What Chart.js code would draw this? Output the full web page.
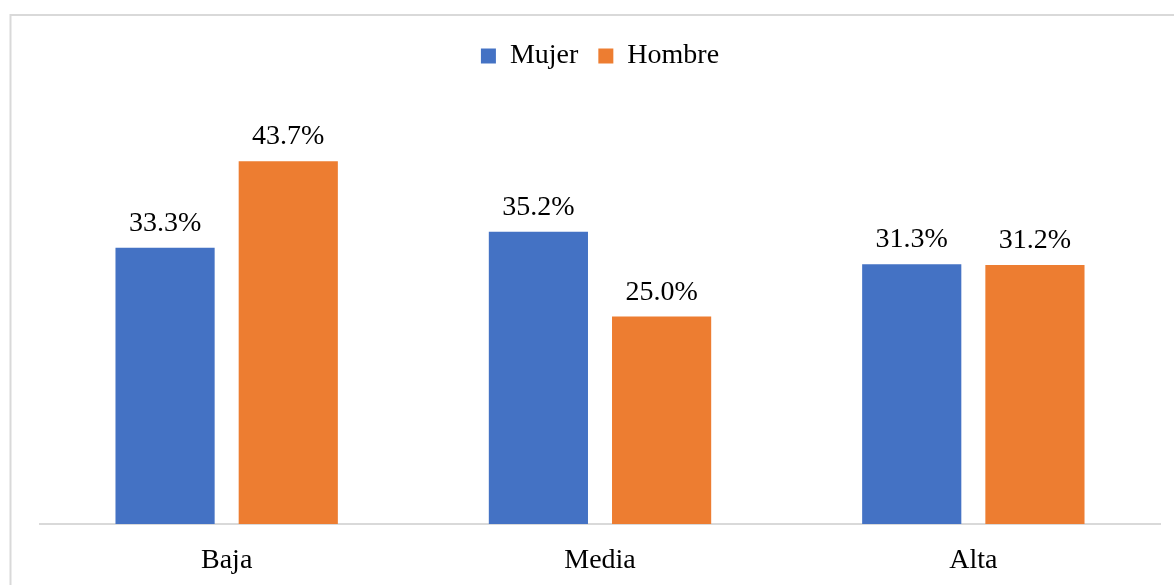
<!DOCTYPE html>
<html>
<head>
  <title>Mujer / Hombre</title>
  <style>
    html, body { margin: 0; padding: 0; background: #fff; overflow: hidden; }
    #wrap { position: relative; width: 1174px; height: 585px; }
  </style>
</head>
<body>
  <div id="wrap"><canvas id="myChart"></canvas></div>
  <script src="https://cdn.jsdelivr.net/npm/chart.js@4.4.1/dist/chart.umd.min.js"></script>
  <script>
    // data
    const categories = ['Baja', 'Media', 'Alta'];
    const mujer = [33.3, 35.2, 31.3];
    const hombre = [43.7, 25.0, 31.2];
    const seriesNames = ['Mujer', 'Hombre'];

    const serif = "'Liberation Serif', 'Times New Roman', serif";

    // light gray frame round the chart (top and left edges only show)
    const framePlugin = {
      id: 'frame',
      beforeDraw(chart) {
        const ctx = chart.ctx;
        ctx.save();
        ctx.strokeStyle = '#d9d9d9';
        ctx.lineWidth = 2;
        ctx.beginPath();
        ctx.moveTo(10.5, chart.height);
        ctx.lineTo(10.5, 15);
        ctx.lineTo(chart.width, 15);
        ctx.stroke();
        ctx.restore();
      }
    };

    // value labels above each bar
    const valueLabels = {
      id: 'valueLabels',
      afterDatasetsDraw(chart) {
        const ctx = chart.ctx;
        ctx.save();
        ctx.font = '28px ' + serif;
        ctx.fillStyle = '#000';
        ctx.textAlign = 'center';
        ctx.textBaseline = 'alphabetic';
        chart.data.datasets.forEach((ds, i) => {
          chart.getDatasetMeta(i).data.forEach((bar, j) => {
            ctx.fillText(ds.data[j].toFixed(1) + '%', bar.x, bar.y - 17);
          });
        });
        ctx.restore();
      }
    };

    let ctx = document.getElementById('myChart').getContext('2d');
    let chart = new Chart(ctx, {
      type: 'bar',
      data: {
        labels: categories,
        datasets: [{
          label: seriesNames[0],
          data: mujer,
          backgroundColor: '#4472c4',
          categoryPercentage: 0.66,
          barPercentage: 0.805
        }, {
          label: seriesNames[1],
          data: hombre,
          backgroundColor: '#ed7d31',
          categoryPercentage: 0.66,
          barPercentage: 0.805
        }]
      },
      options: {
        responsive: true,
        maintainAspectRatio: false,
        animation: false,
        layout: { padding: { left: 40, right: 14, top: 22, bottom: 0 } },
        plugins: {
          legend: {
            position: 'top',
            labels: {
              boxWidth: 15,
              boxHeight: 15,
              padding: 20,
              color: '#000',
              font: { family: serif, size: 28 }
            }
          },
          tooltip: { enabled: false }
        },
        scales: {
          x: {
            grid: { display: false },
            border: { display: true, color: '#d9d9d9', width: 2 },
            ticks: { color: '#000', padding: 12, font: { family: serif, size: 28 } },
            afterFit(scale) { scale.height = 61; }
          },
          y: {
            display: false,
            beginAtZero: true,
            min: 0,
            max: 53.5
          }
        }
      },
      plugins: [framePlugin, valueLabels]
    });
  </script>
</body>
</html>
